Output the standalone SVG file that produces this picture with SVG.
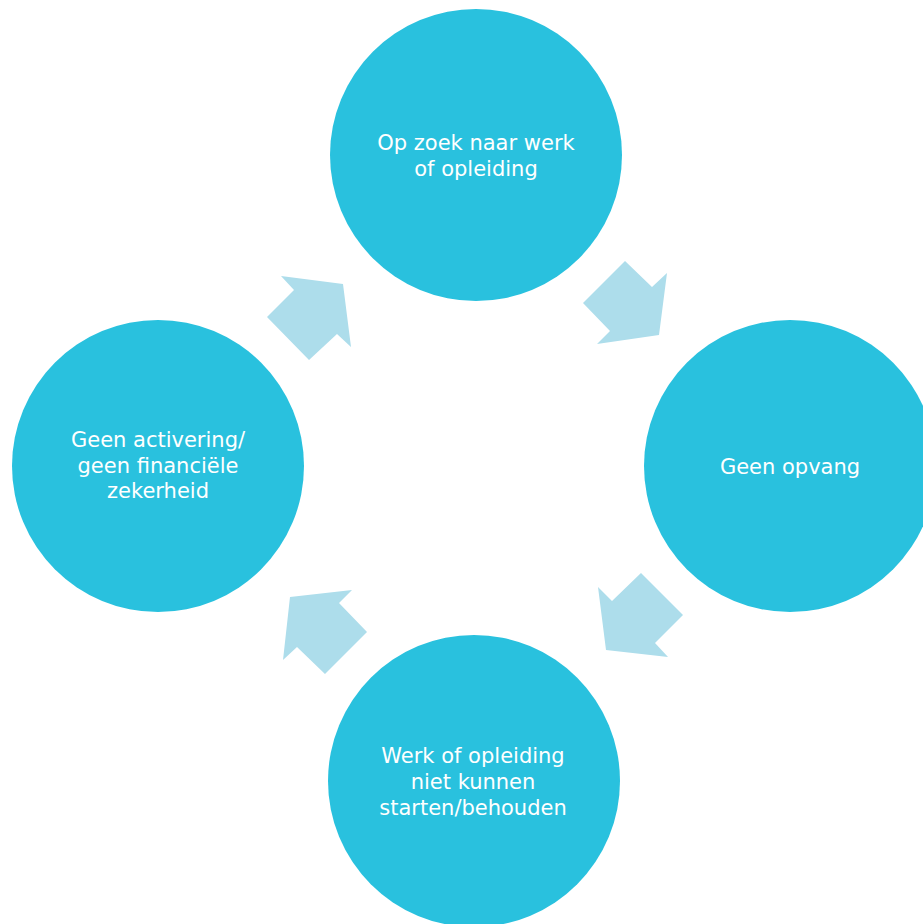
<svg xmlns="http://www.w3.org/2000/svg" width="923" height="924" viewBox="0 0 923 924">
<style>
.node{fill:#29C1DE}
.arrow{fill:#ADDDEB}
.lbl{fill:#FFFFFF;font-family:"DejaVu Sans",sans-serif;font-size:21px;text-anchor:middle}
</style>
<rect width="923" height="924" fill="#FFFFFF"/>
<g id="connectors">
<polygon class="arrow" points="583,303 625,261 652,287 667,273 659,335 597,344 610,331"/>
<polygon class="arrow" points="641,573 683,615 655,643 668,657 606,650 598,587 612,601"/>
<polygon class="arrow" points="290,597 352,590 339,603 367,632 325,674 297,647 283,660"/>
<polygon class="arrow" points="281,276 343,284 351,347 337,334 309,360 267,317 294,290"/>
</g>
<g id="node-top">
<circle class="node" cx="476" cy="155" r="146"/>
<text class="lbl" x="476" y="150">Op zoek naar werk</text>
<text class="lbl" x="476" y="175.5">of opleiding</text>
</g>
<g id="node-right">
<circle class="node" cx="790" cy="466" r="146"/>
<text class="lbl" x="790" y="474">Geen opvang</text>
</g>
<g id="node-bottom">
<circle class="node" cx="474" cy="781" r="146"/>
<text class="lbl" x="473" y="763">Werk of opleiding</text>
<text class="lbl" x="473" y="789">niet kunnen</text>
<text class="lbl" x="473" y="815">starten/behouden</text>
</g>
<g id="node-left">
<circle class="node" cx="158" cy="466" r="146"/>
<text class="lbl" x="158" y="447">Geen activering/</text>
<text class="lbl" x="158" y="472.5">geen financiële</text>
<text class="lbl" x="158" y="498">zekerheid</text>
</g>
</svg>
